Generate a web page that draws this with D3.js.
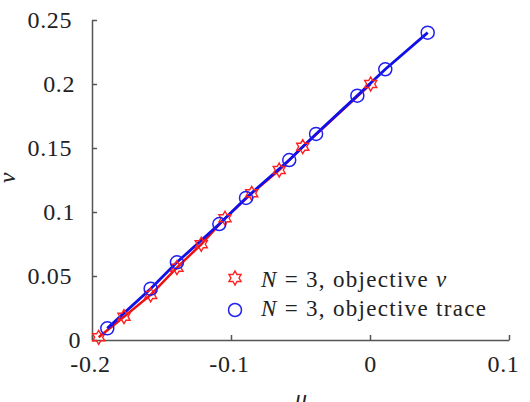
<!DOCTYPE html>
<html><head><meta charset="utf-8">
<script src="https://cdn.jsdelivr.net/npm/d3@7"></script>
<style>body{margin:0;background:#fff}svg{display:block}</style>
</head><body>
<script>
// Data
const starU = [-0.1952, -0.177, -0.1578, -0.1389, -0.1214, -0.1043, -0.0851, -0.0653, -0.0484, 0.0005];
const starV = [0.0021, 0.0182, 0.0352, 0.0565, 0.0748, 0.0951, 0.1146, 0.1328, 0.151, 0.2];
const circU = [-0.189, -0.1578, -0.1389, -0.1084, -0.0892, -0.0581, -0.0388, -0.0091, 0.011, 0.0415];
const circV = [0.0091, 0.0401, 0.0607, 0.0906, 0.111, 0.1406, 0.161, 0.1909, 0.2115, 0.2401];
const xTicks = [-0.2, -0.1, 0, 0.1];
const xTickLabels = ["-0.2", "-0.1", "0", "0.1"];
const yTicks = [0, 0.05, 0.1, 0.15, 0.2, 0.25];
const yTickLabels = ["0", "0.05", "0.1", "0.15", "0.2", "0.25"];

const FONT = "Liberation Serif";
const W = 530, H = 402;
const svg = d3.select("body").append("svg").attr("width", W).attr("height", H);
const x = d3.scaleLinear().domain([-0.2, 0.1]).range([92, 509]);
const y = d3.scaleLinear().domain([0, 0.25]).range([340, 20]);
const axisColor = "#555";

// axes
const gx = svg.append("g").attr("transform", "translate(0,340)")
  .call(d3.axisBottom(x).tickValues(xTicks).tickSize(-5).tickSizeOuter(0).tickFormat((d,i)=>xTickLabels[i]).tickPadding(0));
gx.attr("font-family", FONT).attr("font-size", 24).attr("letter-spacing", 0.6);
gx.select(".domain").attr("stroke", axisColor).attr("stroke-width", 1.5);
gx.selectAll(".tick line").attr("stroke", axisColor).attr("stroke-width", 1.5);
gx.selectAll(".tick text").attr("y", 32).attr("dy", 0)
  .attr("dx", (d,i)=> i===3 ? -6 : (i===0||i===1 ? -2 : 0)).attr("fill", "#222");

const gy = svg.append("g").attr("transform", "translate(92,0)")
  .call(d3.axisLeft(y).tickValues(yTicks).tickSize(-5).tickSizeOuter(0).tickFormat((d,i)=>yTickLabels[i]));
gy.attr("font-family", FONT).attr("font-size", 24).attr("letter-spacing", 0.6);
gy.select(".domain").attr("stroke", axisColor).attr("stroke-width", 1.5);
gy.selectAll(".tick line").attr("stroke", axisColor).attr("stroke-width", 1.5);
gy.selectAll(".tick text").attr("text-anchor", "end").attr("dy", "0.33em")
  .attr("x", (d,i)=> -20 + (4 - yTickLabels[i].length) * 3).attr("fill", "#222");

// lines
const line = d3.line().x(d=>x(d[0])).y(d=>y(d[1]));
const starPts = starU.map((u,i)=>[u, starV[i]]);
const circPts = circU.map((u,i)=>[u, circV[i]]);
svg.append("path").attr("d", line(starPts)).attr("fill","none").attr("stroke","#f01010").attr("stroke-width",2.5);
svg.append("path").attr("d", line(circPts)).attr("fill","none").attr("stroke","#1010e8").attr("stroke-width",2.8);

function hexagram(R){
  const r = R/Math.sqrt(3);
  const pts = [];
  for(let k=0;k<12;k++){
    const a = -Math.PI/2 + k*Math.PI/6;
    const rr = k%2===0 ? R : r;
    pts.push([rr*Math.cos(a), rr*Math.sin(a)]);
  }
  return "M"+pts.map(p=>p.join(",")).join("L")+"Z";
}
const starPath = hexagram(7);
svg.append("g").selectAll("path").data(starPts).join("path")
  .attr("d", starPath).attr("transform", d=>`translate(${x(d[0])},${y(d[1])})`)
  .attr("fill","none").attr("stroke","#ff2020").attr("stroke-width",1.4);
svg.append("g").selectAll("circle").data(circPts).join("circle")
  .attr("cx", d=>x(d[0])).attr("cy", d=>y(d[1])).attr("r", 6.5)
  .attr("fill","none").attr("stroke","#2020f0").attr("stroke-width",1.5);

// legend
const leg = svg.append("g").attr("font-family", FONT).attr("font-size", 23).attr("letter-spacing", 1.3);
leg.append("path").attr("d", hexagram(7)).attr("transform","translate(235,278)")
  .attr("fill","none").attr("stroke","#ff2020").attr("stroke-width",1.4);
leg.append("circle").attr("cx",235).attr("cy",310).attr("r",6.5)
  .attr("fill","none").attr("stroke","#2020f0").attr("stroke-width",1.5);
[0,1].forEach(i=>{
  const t = leg.append("text").attr("x", 261).attr("y", i===0 ? 287 : 316).attr("fill", "#222");
  t.append("tspan").attr("font-style","italic").text("N");
  t.append("tspan").text(" = 3, ");
  if(i===0){
    t.append("tspan").text("objective ");
    t.append("tspan").attr("font-style","italic").text("ν");
  } else {
    t.append("tspan").text("objective trace");
  }
});

// axis labels
svg.append("text").attr("x", 301).attr("y", 406).attr("text-anchor","middle")
  .attr("font-family", FONT).attr("font-size", 24).attr("font-style","italic").attr("fill", "#222").text("μ");
svg.append("text").attr("transform","translate(15,178) rotate(-90)").attr("text-anchor","middle")
  .attr("font-family", FONT).attr("font-size", 24).attr("font-style","italic").attr("fill", "#222").text("ν");
</script>
</body></html>
